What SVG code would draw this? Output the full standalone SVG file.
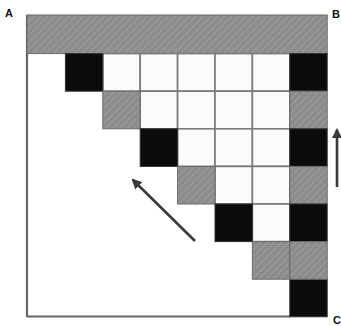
<svg xmlns="http://www.w3.org/2000/svg" width="341" height="326" viewBox="0 0 341 326">
<style>
.lbl{font-family:"Liberation Sans",Arial,sans-serif;font-weight:bold;font-size:11px;fill:#111}
.g{fill:url(#hatch);stroke:#6a6a6a;stroke-width:1}
.k{fill:#0b0b0b;stroke:#333;stroke-width:1}
.w{fill:#fbfbfb;stroke:#7a7a7a;stroke-width:1.6}
.frame{stroke:#666;stroke-width:2.2;fill:none}
.arr{stroke:#3a3a3a;stroke-width:2.6;fill:none}
</style>
<defs>
<pattern id="hatch" patternUnits="userSpaceOnUse" width="5" height="5" patternTransform="rotate(45)">
<rect width="5" height="5" fill="#8c8c8c"/>
<line x1="0" y1="0" x2="0" y2="5" stroke="#c2c2c2" stroke-width="1.1" stroke-dasharray="1.5 1"/>
</pattern>
<marker id="ah" viewBox="0 0 10 10" refX="8" refY="5" markerWidth="4" markerHeight="4" orient="auto-start-reverse">
<path d="M0,0 L10,5 L0,10 z" fill="#3a3a3a"/>
</marker>
</defs>
<rect width="341" height="326" fill="#ffffff"/>

<g id="frame">
<line class="frame" x1="27" y1="15" x2="27" y2="317"/>
<line class="frame" x1="27" y1="316.5" x2="290" y2="316.5"/>
</g>

<g id="row0">
<rect class="g" x="27" y="15" width="300.2" height="38.6"/>
</g>

<g id="whites">
<rect class="w" x="102.8" y="53.6" width="37.4" height="37.6"/>
<rect class="w" x="140.2" y="53.6" width="37.4" height="37.6"/>
<rect class="w" x="177.6" y="53.6" width="37.4" height="37.6"/>
<rect class="w" x="215" y="53.6" width="37.4" height="37.6"/>
<rect class="w" x="252.4" y="53.6" width="37.4" height="37.6"/>
<rect class="w" x="140.2" y="91.2" width="37.4" height="37.6"/>
<rect class="w" x="177.6" y="91.2" width="37.4" height="37.6"/>
<rect class="w" x="215" y="91.2" width="37.4" height="37.6"/>
<rect class="w" x="252.4" y="91.2" width="37.4" height="37.6"/>
<rect class="w" x="177.6" y="128.8" width="37.4" height="37.6"/>
<rect class="w" x="215" y="128.8" width="37.4" height="37.6"/>
<rect class="w" x="252.4" y="128.8" width="37.4" height="37.6"/>
<rect class="w" x="215" y="166.4" width="37.4" height="37.6"/>
<rect class="w" x="252.4" y="166.4" width="37.4" height="37.6"/>
<rect class="w" x="252.4" y="204" width="37.4" height="37.6"/>
</g>

<g id="diagonal">
<rect class="k" x="65.4" y="53.6" width="37.4" height="37.6"/>
<rect class="g" x="102.8" y="91.2" width="37.4" height="37.6"/>
<rect class="k" x="140.2" y="128.8" width="37.4" height="37.6"/>
<rect class="g" x="177.6" y="166.4" width="37.4" height="37.6"/>
<rect class="k" x="215" y="204" width="37.4" height="37.6"/>
<rect class="g" x="252.4" y="241.6" width="37.4" height="37.6"/>
<rect class="k" x="289.8" y="279.2" width="37.4" height="37.6"/>
</g>

<g id="lastcol">
<rect class="k" x="289.8" y="53.6" width="37.4" height="37.6"/>
<rect class="g" x="289.8" y="91.2" width="37.4" height="37.6"/>
<rect class="k" x="289.8" y="128.8" width="37.4" height="37.6"/>
<rect class="g" x="289.8" y="166.4" width="37.4" height="37.6"/>
<rect class="k" x="289.8" y="204" width="37.4" height="37.6"/>
<rect class="g" x="289.8" y="241.6" width="37.4" height="37.6"/>
</g>

<g id="connectors">
<line class="arr" x1="195" y1="241" x2="133" y2="180" marker-end="url(#ah)"/>
<line class="arr" x1="337" y1="187" x2="337" y2="130" marker-end="url(#ah)"/>
</g>

<g id="labels">
<text class="lbl" x="5" y="17">A</text>
<text class="lbl" x="332" y="18">B</text>
<text class="lbl" x="333" y="324">C</text>
</g>
</svg>
